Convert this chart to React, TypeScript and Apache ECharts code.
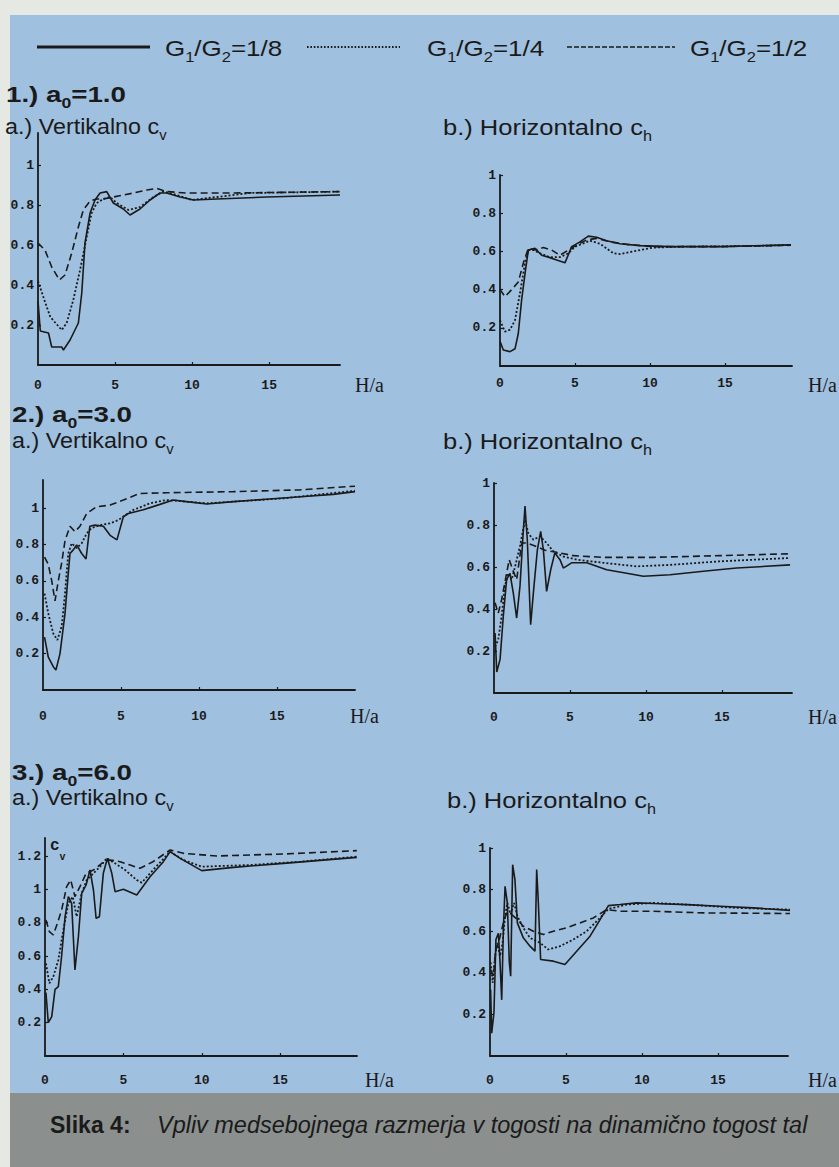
import React, { useEffect, useRef } from 'react';
import * as echarts from 'echarts';

// ---------- data ----------
const seriesNames = ['G1/G2=1/8', 'G1/G2=1/4', 'G1/G2=1/2'];
const xTickValues = [0, 5, 10, 15];
const yTickValues = [0.2, 0.4, 0.6, 0.8, 1];
const yTickValues3a = [0.2, 0.4, 0.6, 0.8, 1, 1.2];

// 1.) a0 = 1.0, vertical c_v
const v1_8 = [[0,0.32],[0.15,0.17],[0.68,0.16],[0.89,0.09],[1.54,0.09],[1.65,0.075],[2.08,0.125],[2.62,0.21],[2.84,0.36],[3.05,0.61],[3.38,0.76],[3.7,0.825],[4.03,0.86],[4.46,0.867],[4.89,0.81],[5.54,0.78],[5.97,0.75],[6.62,0.78],[7.27,0.825],[7.92,0.86],[8.35,0.86],[9.22,0.84],[10.09,0.825],[11.6,0.83],[14.85,0.84],[19.6,0.85]];
const v1_4 = [[0,0.42],[0.48,0.31],[0.8,0.24],[1.54,0.175],[1.86,0.21],[2.29,0.325],[2.73,0.475],[3.16,0.64],[3.48,0.76],[3.81,0.81],[4.24,0.83],[4.68,0.84],[5.11,0.81],[5.87,0.775],[6.62,0.79],[7.49,0.84],[8.14,0.867],[9.0,0.85],[9.98,0.825],[11.6,0.84],[13.77,0.86],[19.6,0.867]];
const v1_2 = [[0,0.61],[0.45,0.575],[0.89,0.49],[1.39,0.425],[1.75,0.45],[2.19,0.56],[2.62,0.69],[2.94,0.775],[3.38,0.82],[3.81,0.83],[4.24,0.83],[4.89,0.84],[5.54,0.85],[6.19,0.86],[7.06,0.875],[7.71,0.883],[8.35,0.867],[9.65,0.86],[12.68,0.86],[19.6,0.867]];
// 1.) a0 = 1.0, horizontal c_h
const h1_8 = [[0,0.13],[0.22,0.084],[0.67,0.075],[1.0,0.09],[1.22,0.17],[1.44,0.345],[1.67,0.485],[1.89,0.607],[2.33,0.616],[2.78,0.58],[3.22,0.57],[3.78,0.555],[4.33,0.54],[4.78,0.625],[5.33,0.65],[5.89,0.68],[6.44,0.674],[7.11,0.656],[8.0,0.64],[9.33,0.63],[11.33,0.625],[14.67,0.625],[19.4,0.634]];
const h1_4 = [[0,0.24],[0.33,0.18],[0.67,0.19],[1.0,0.24],[1.33,0.38],[1.67,0.54],[1.89,0.607],[2.22,0.607],[2.67,0.59],[3.33,0.57],[4.0,0.57],[4.56,0.59],[5.0,0.625],[5.56,0.642],[6.0,0.656],[6.67,0.64],[7.56,0.59],[8.0,0.586],[8.89,0.6],[10.22,0.62],[12.44,0.625],[16.89,0.628],[19.4,0.634]];
const h1_2 = [[0,0.4],[0.33,0.363],[0.78,0.4],[1.22,0.44],[1.56,0.54],[1.89,0.616],[2.33,0.607],[2.89,0.62],[3.44,0.607],[4.0,0.58],[4.56,0.607],[5.11,0.634],[5.78,0.66],[6.44,0.668],[7.33,0.65],[8.44,0.637],[10.22,0.625],[14.67,0.625],[19.4,0.632]];
// 2.) a0 = 3.0, vertical c_v
const v3_8 = [[0.1,0.29],[0.34,0.18],[0.66,0.128],[0.83,0.11],[1.09,0.2],[1.41,0.42],[1.62,0.64],[1.73,0.75],[1.94,0.77],[2.16,0.797],[2.48,0.75],[2.76,0.72],[3.0,0.9],[3.33,0.906],[3.87,0.9],[4.3,0.85],[4.74,0.825],[5.15,0.952],[5.47,0.97],[6.43,0.99],[7.5,1.02],[8.35,1.044],[9.2,1.035],[10.5,1.022],[12.2,1.035],[14.3,1.048],[16.5,1.062],[18.6,1.075],[20.0,1.09]];
const v3_4 = [[0.1,0.53],[0.34,0.42],[0.66,0.31],[0.92,0.275],[1.2,0.35],[1.41,0.53],[1.62,0.75],[1.84,0.806],[2.16,0.78],[2.48,0.806],[2.8,0.86],[3.12,0.89],[3.65,0.906],[4.3,0.916],[4.83,0.934],[5.26,0.96],[5.8,0.99],[6.86,1.026],[7.9,1.044],[9.2,1.035],[10.5,1.026],[12.2,1.035],[15.4,1.053],[20.0,1.095]];
const v3_2 = [[0.1,0.73],[0.34,0.69],[0.56,0.6],[0.77,0.49],[0.98,0.6],[1.2,0.7],[1.41,0.82],[1.73,0.9],[2.05,0.87],[2.37,0.9],[2.8,0.97],[3.44,1.007],[4.3,1.016],[5.15,1.044],[6.2,1.08],[7.9,1.084],[12.2,1.09],[16.5,1.1],[20.0,1.12]];
// 2.) a0 = 3.0, horizontal c_h
const h3_8 = [[0.07,0.285],[0.18,0.1],[0.4,0.16],[0.61,0.365],[0.83,0.54],[1.05,0.57],[1.27,0.476],[1.49,0.357],[1.71,0.51],[1.89,0.73],[2.04,0.89],[2.19,0.73],[2.41,0.325],[2.63,0.51],[2.85,0.68],[3.07,0.77],[3.25,0.68],[3.46,0.484],[3.73,0.587],[4.0,0.667],[4.34,0.635],[4.56,0.595],[5.1,0.62],[6.1,0.62],[7.41,0.587],[8.73,0.57],[9.82,0.556],[11.58,0.563],[13.77,0.58],[15.96,0.595],[19.47,0.61]];
const h3_4 = [[0.07,0.22],[0.28,0.254],[0.5,0.365],[0.72,0.51],[0.94,0.57],[1.16,0.54],[1.38,0.6],[1.71,0.7],[2.04,0.825],[2.26,0.76],[2.59,0.73],[3.03,0.746],[3.46,0.714],[3.9,0.675],[4.56,0.65],[5.44,0.635],[7.19,0.62],[9.39,0.603],[11.58,0.61],[14.87,0.627],[19.47,0.643]];
const h3_2 = [[0.07,0.43],[0.28,0.38],[0.5,0.444],[0.79,0.555],[1.0,0.635],[1.23,0.587],[1.49,0.54],[1.82,0.714],[2.15,0.714],[2.7,0.7],[3.36,0.68],[4.12,0.67],[5.22,0.654],[7.19,0.646],[10.48,0.646],[14.87,0.654],[19.47,0.663]];
// 3.) a0 = 6.0, vertical c_v
const v6_8 = [[0.06,0.38],[0.21,0.2],[0.43,0.236],[0.64,0.4],[0.85,0.416],[1.06,0.6],[1.28,0.836],[1.49,0.956],[1.7,0.916],[1.91,0.516],[2.13,0.716],[2.34,0.976],[2.62,1.026],[2.87,1.116],[3.09,0.996],[3.26,0.826],[3.47,0.836],[3.72,1.096],[3.98,1.186],[4.26,1.096],[4.47,0.986],[5.0,1.0],[5.85,0.966],[6.7,1.076],[7.55,1.166],[7.98,1.226],[8.62,1.186],[10.0,1.112],[12.02,1.132],[15.21,1.156],[19.89,1.192]];
const v6_4 = [[0.06,0.556],[0.28,0.436],[0.53,0.476],[0.85,0.576],[1.17,0.756],[1.49,0.916],[1.77,0.956],[2.02,0.836],[2.34,0.976],[2.66,1.056],[3.09,1.096],[3.51,1.136],[3.94,1.186],[4.47,1.156],[5.11,1.116],[5.85,1.056],[6.17,1.04],[6.89,1.116],[7.98,1.226],[8.83,1.176],[10.0,1.136],[13.09,1.146],[16.28,1.166],[19.89,1.196]];
const v6_2 = [[0.06,0.816],[0.28,0.746],[0.53,0.726],[0.79,0.796],[1.06,0.876],[1.38,1.016],[1.64,1.056],[1.91,0.956],[2.23,1.016],[2.62,1.096],[3.09,1.116],[3.62,1.156],[4.15,1.176],[4.79,1.166],[5.43,1.146],[6.06,1.126],[6.89,1.166],[7.98,1.236],[8.83,1.216],[10.96,1.2],[15.21,1.212],[19.89,1.232]];
// 3.) a0 = 6.0, horizontal c_h
const h6_8 = [[0.04,0.32],[0.11,0.11],[0.26,0.208],[0.39,0.56],[0.55,0.59],[0.66,0.45],[0.77,0.27],[0.88,0.61],[0.99,0.816],[1.14,0.736],[1.27,0.45],[1.36,0.384],[1.49,0.92],[1.64,0.848],[1.8,0.64],[2.19,0.568],[2.63,0.528],[2.96,0.504],[3.07,0.896],[3.18,0.736],[3.33,0.464],[4.17,0.456],[4.93,0.44],[5.7,0.504],[6.58,0.576],[7.24,0.656],[7.79,0.723],[8.55,0.728],[9.65,0.736],[10.75,0.733],[12.94,0.728],[15.13,0.72],[17.32,0.712],[19.74,0.7]];
const h6_4 = [[0.04,0.45],[0.18,0.352],[0.33,0.48],[0.48,0.544],[0.66,0.48],[0.83,0.544],[0.99,0.672],[1.14,0.736],[1.36,0.68],[1.58,0.736],[1.8,0.672],[2.19,0.616],[2.63,0.568],[3.29,0.544],[3.84,0.512],[4.61,0.528],[5.48,0.56],[6.36,0.6],[7.02,0.648],[7.79,0.707],[8.99,0.728],[10.75,0.736],[12.94,0.728],[16.23,0.712],[19.74,0.704]];
const h6_2 = [[0.04,0.416],[0.22,0.384],[0.39,0.512],[0.61,0.56],[0.88,0.64],[1.1,0.688],[1.43,0.68],[1.8,0.656],[2.19,0.624],[2.85,0.6],[3.51,0.584],[4.17,0.6],[5.04,0.616],[5.92,0.64],[6.8,0.664],[7.68,0.704],[8.55,0.696],[10.75,0.696],[14.04,0.688],[19.74,0.685]];

const panelData = [
  [v1_8, v1_4, v1_2],
  [h1_8, h1_4, h1_2],
  [v3_8, v3_4, v3_2],
  [h3_8, h3_4, h3_2],
  [v6_8, v6_4, v6_2],
  [h6_8, h6_4, h6_2],
];

// ---------- layout (positions, scales) ----------
const panels = [
  { left: 38, top: 133, width: 302, height: 232, xMax: 19.6, yMax: 1.16, yTicks: yTickValues, xMargin: 14, nameGap: 15, nameDrop: 10 },
  { left: 500, top: 175, width: 292, height: 191, xMax: 19.47, yMax: 1.0, yTicks: yTickValues, xMargin: 11, nameGap: 16, nameDrop: 9 },
  { left: 43, top: 480, width: 312, height: 210, xMax: 20, yMax: 1.154, yTicks: yTickValues, xMargin: 20, nameGap: -5, nameDrop: 16 },
  { left: 494, top: 483, width: 298, height: 210, xMax: 19.6, yMax: 1.0, yTicks: yTickValues, xMargin: 18, nameGap: 16, nameDrop: 14 },
  { left: 45, top: 838, width: 312, height: 218, xMax: 19.9, yMax: 1.308, yTicks: yTickValues3a, xMargin: 18, nameGap: 8, nameDrop: 14 },
  { left: 490, top: 848, width: 298, height: 208, xMax: 19.6, yMax: 1.0, yTicks: yTickValues, xMargin: 18, nameGap: 20, nameDrop: 14 },
];

const INK = '#1a1a1a';
const SANS = "'Liberation Sans', Arial, Helvetica, sans-serif";
const MONO = "'Liberation Mono', 'DejaVu Sans Mono', monospace";
const SERIF = "'Liberation Serif', 'Times New Roman', serif";
const lineTypes: any[] = ['solid', [2, 2], [7, 4]];
const lineWidths = [1.6, 1.8, 1.6];

function richText(x: number, y: number, text: string, size: number, weight: string, sx: number, family = SANS, italic = false) {
  const base = { fontFamily: family, fontSize: size, fontWeight: weight, fontStyle: italic ? 'italic' : 'normal', fill: INK, lineHeight: 32 };
  return {
    type: 'text',
    x,
    y,
    scaleX: sx,
    z: 10,
    silent: true,
    style: {
      text,
      align: 'left',
      verticalAlign: 'middle',
      fontFamily: family,
      fontSize: size,
      fontWeight: weight,
      fill: INK,
      rich: {
        m: base,
        s: { fontFamily: family, fontSize: Math.round(size * 0.62), fontWeight: weight, fill: INK, lineHeight: 16, verticalAlign: 'bottom' },
      },
    },
  };
}

function legendText(label: string) {
  const tail = label.split('=')[1];
  return `{m|G}{s|1}{m|/G}{s|2}{m|=${tail}}`;
}

export default function App() {
  const ref = useRef<HTMLDivElement>(null);
  useEffect(() => {
    if (!ref.current) return;
    const chart = echarts.init(ref.current, null, { renderer: 'svg' });

    const grid = panels.map((p) => ({ left: p.left, top: p.top, width: p.width, height: p.height, containLabel: false }));
    const xAxis = panels.map((p, i) => ({
      type: 'value',
      gridIndex: i,
      min: 0,
      max: p.xMax,
      interval: 5,
      name: 'H/a',
      nameLocation: 'end',
      nameGap: p.nameGap,
      nameTextStyle: { fontFamily: SERIF, fontSize: 20, color: INK, align: 'left', verticalAlign: 'top', padding: [p.nameDrop, 0, 0, 0] },
      axisLine: { show: true, onZero: false, lineStyle: { color: INK, width: 1.8 } },
      axisTick: { show: true, inside: true, length: 3, lineStyle: { color: INK, width: 1.2 }, customValues: [5, 10, 15] },
      splitLine: { show: false },
      axisLabel: {
        margin: p.xMargin,
        fontFamily: MONO,
        fontWeight: 'bold',
        fontSize: 13,
        color: INK,
        customValues: xTickValues,
        formatter: (v: number) => (Math.abs(v % 5) < 1e-9 ? String(v) : ''),
      },
    }));
    const yAxis = panels.map((p, i) => ({
      type: 'value',
      gridIndex: i,
      min: 0,
      max: p.yMax,
      interval: 0.2,
      axisLine: { show: true, onZero: false, lineStyle: { color: INK, width: 1.8 } },
      axisTick: { show: true, inside: true, length: 3, lineStyle: { color: INK, width: 1.2 }, customValues: p.yTicks },
      splitLine: { show: false },
      axisLabel: {
        margin: 4,
        fontFamily: MONO,
        fontWeight: 'bold',
        fontSize: 13,
        color: INK,
        customValues: p.yTicks,
        formatter: (v: number) => {
          const k = v / 0.2;
          if (v <= 0 || Math.abs(k - Math.round(k)) > 1e-6) return '';
          return String(+v.toFixed(1));
        },
      },
    }));

    const series: any[] = [];
    panelData.forEach((trio, i) => {
      trio.forEach((data, k) => {
        series.push({
          type: 'line',
          name: seriesNames[k],
          xAxisIndex: i,
          yAxisIndex: i,
          data,
          showSymbol: false,
          symbol: 'none',
          silent: true,
          lineStyle: { color: INK, width: lineWidths[k], type: lineTypes[k] },
        });
      });
    });

    const graphic: any[] = [
      { type: 'rect', shape: { x: 0, y: 0, width: 839, height: 15 }, style: { fill: '#e6e9e3' }, silent: true },
      { type: 'rect', shape: { x: 0, y: 0, width: 10, height: 1167 }, style: { fill: '#e6e9e3' }, silent: true },
      { type: 'rect', shape: { x: 10, y: 1093, width: 829, height: 74 }, style: { fill: '#8b908e' }, silent: true },
      // legend keys
      { type: 'line', shape: { x1: 37, y1: 47, x2: 150, y2: 47 }, style: { stroke: INK, lineWidth: 3 }, silent: true },
      { type: 'line', shape: { x1: 307, y1: 47, x2: 400, y2: 47 }, style: { stroke: INK, lineWidth: 1.8, lineDash: [1.6, 1.8] }, silent: true },
      { type: 'line', shape: { x1: 567, y1: 47, x2: 675, y2: 47 }, style: { stroke: INK, lineWidth: 1.6, lineDash: [5, 2] }, silent: true },
      richText(165, 48, legendText(seriesNames[0]), 22, 'normal', 1.18),
      richText(427, 48, legendText(seriesNames[1]), 22, 'normal', 1.18),
      richText(690, 48, legendText(seriesNames[2]), 22, 'normal', 1.18),
      // headings
      richText(6, 94, '{m|1.) a}{s|0}{m|=1.0}', 22, 'bold', 1.26),
      richText(5, 126, '{m|a.) Vertikalno c}{s|v}', 22, 'normal', 1.06),
      richText(443, 127, '{m|b.) Horizontalno c}{s|h}', 22, 'normal', 1.16),
      richText(12, 414, '{m|2.) a}{s|0}{m|=3.0}', 22, 'bold', 1.26),
      richText(12, 440, '{m|a.) Vertikalno c}{s|v}', 22, 'normal', 1.06),
      richText(443, 441, '{m|b.) Horizontalno c}{s|h}', 22, 'normal', 1.16),
      richText(12, 772, '{m|3.) a}{s|0}{m|=6.0}', 22, 'bold', 1.26),
      richText(12, 797, '{m|a.) Vertikalno c}{s|v}', 22, 'normal', 1.06),
      richText(447, 800, '{m|b.) Horizontalno c}{s|h}', 22, 'normal', 1.16),
      // c_v axis name in panel 3a
      richText(50, 846, '{m|c}{s|v}', 16, 'bold', 1.0, MONO),
      // caption
      richText(50, 1125, '{m|Slika 4:}', 23, 'bold', 1.0),
      richText(157, 1125, '{m|Vpliv medsebojnega razmerja v togosti na dinamično togost tal}', 23, 'normal', 1.02, SANS, true),
    ];

    chart.setOption({
      animation: false,
      backgroundColor: '#a0c0df',
      grid,
      xAxis,
      yAxis,
      series,
      graphic,
    });
    return () => chart.dispose();
  }, []);

  return <div ref={ref} style={{ position: 'absolute', left: 0, top: 0, width: 839, height: 1167 }} />;
}
